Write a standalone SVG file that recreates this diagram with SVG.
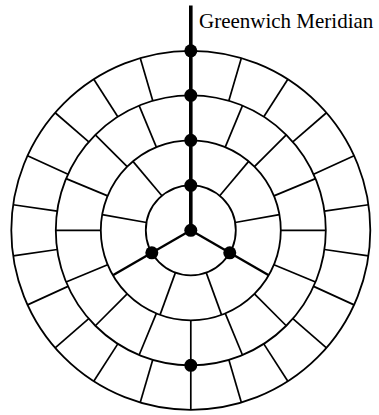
<svg xmlns="http://www.w3.org/2000/svg" xmlns:xlink="http://www.w3.org/1999/xlink" width="379" height="415" viewBox="0 0 379 415">
<style>
.ring{fill:none;stroke:#000;stroke-width:1.8}
.sp{stroke:#000;stroke-width:1.7;fill:none}
.thick{stroke:#000;stroke-width:2.4;fill:none}
.mer{stroke:#000;stroke-width:3.6;fill:none}
.dot{fill:#000}
.lbl{font-family:"Liberation Serif","Times New Roman",serif;font-size:21px;fill:#000}
</style>
<defs>
<line id="s1" x1="0" y1="-45" x2="0" y2="-90"/>
<line id="s2" x1="0" y1="-90" x2="0" y2="-135"/>
<line id="s3" x1="0" y1="-135" x2="0" y2="-179.5"/>
</defs>
<g id="rings" transform="translate(190.8,230.3)">
<circle class="ring" r="45"/>
<circle class="ring" r="90"/>
<circle class="ring" r="135"/>
<circle class="ring" r="179.5"/>
</g>
<g id="connectors" transform="translate(190.8,230.3)">
<g class="sp">
<use xlink:href="#s1" transform="rotate(40)"/>
<use xlink:href="#s1" transform="rotate(80)"/>
<use xlink:href="#s1" transform="rotate(160)"/>
<use xlink:href="#s1" transform="rotate(200)"/>
<use xlink:href="#s1" transform="rotate(280)"/>
<use xlink:href="#s1" transform="rotate(320)"/>
<use xlink:href="#s2" transform="rotate(22.5)"/>
<use xlink:href="#s2" transform="rotate(45)"/>
<use xlink:href="#s2" transform="rotate(67.5)"/>
<use xlink:href="#s2" transform="rotate(90)"/>
<use xlink:href="#s2" transform="rotate(112.5)"/>
<use xlink:href="#s2" transform="rotate(135)"/>
<use xlink:href="#s2" transform="rotate(157.5)"/>
<use xlink:href="#s2" transform="rotate(180)"/>
<use xlink:href="#s2" transform="rotate(202.5)"/>
<use xlink:href="#s2" transform="rotate(225)"/>
<use xlink:href="#s2" transform="rotate(247.5)"/>
<use xlink:href="#s2" transform="rotate(270)"/>
<use xlink:href="#s2" transform="rotate(292.5)"/>
<use xlink:href="#s2" transform="rotate(315)"/>
<use xlink:href="#s2" transform="rotate(337.5)"/>
<use xlink:href="#s3" transform="rotate(16.3636)"/>
<use xlink:href="#s3" transform="rotate(32.7273)"/>
<use xlink:href="#s3" transform="rotate(49.0909)"/>
<use xlink:href="#s3" transform="rotate(65.4545)"/>
<use xlink:href="#s3" transform="rotate(81.8182)"/>
<use xlink:href="#s3" transform="rotate(98.1818)"/>
<use xlink:href="#s3" transform="rotate(114.5455)"/>
<use xlink:href="#s3" transform="rotate(130.9091)"/>
<use xlink:href="#s3" transform="rotate(147.2727)"/>
<use xlink:href="#s3" transform="rotate(163.6364)"/>
<use xlink:href="#s3" transform="rotate(180)"/>
<use xlink:href="#s3" transform="rotate(196.3636)"/>
<use xlink:href="#s3" transform="rotate(212.7273)"/>
<use xlink:href="#s3" transform="rotate(229.0909)"/>
<use xlink:href="#s3" transform="rotate(245.4545)"/>
<use xlink:href="#s3" transform="rotate(261.8182)"/>
<use xlink:href="#s3" transform="rotate(278.1818)"/>
<use xlink:href="#s3" transform="rotate(294.5455)"/>
<use xlink:href="#s3" transform="rotate(310.9091)"/>
<use xlink:href="#s3" transform="rotate(327.2727)"/>
<use xlink:href="#s3" transform="rotate(343.6364)"/>
</g>
<line class="thick" x1="0" y1="0" x2="0" y2="-90" transform="rotate(120)"/>
<line class="thick" x1="0" y1="0" x2="0" y2="-90" transform="rotate(240)"/>
<line class="mer" x1="0" y1="0" x2="0" y2="-224.8"/>
</g>
<g id="dot-center"><circle class="dot" cx="190.8" cy="230.3" r="6.5"/></g>
<g id="dot-n45"><circle class="dot" cx="190.8" cy="185.3" r="6.5"/></g>
<g id="dot-n90"><circle class="dot" cx="190.8" cy="140.3" r="6.5"/></g>
<g id="dot-n135"><circle class="dot" cx="190.8" cy="95.3" r="6.5"/></g>
<g id="dot-n180"><circle class="dot" cx="190.8" cy="50.8" r="6.5"/></g>
<g id="dot-sw"><circle class="dot" cx="151.83" cy="252.8" r="6.5"/></g>
<g id="dot-se"><circle class="dot" cx="229.77" cy="252.8" r="6.5"/></g>
<g id="dot-s135"><circle class="dot" cx="190.8" cy="365.3" r="6.5"/></g>
<g id="label"><text class="lbl" x="199" y="27.5">Greenwich Meridian</text></g>
</svg>
